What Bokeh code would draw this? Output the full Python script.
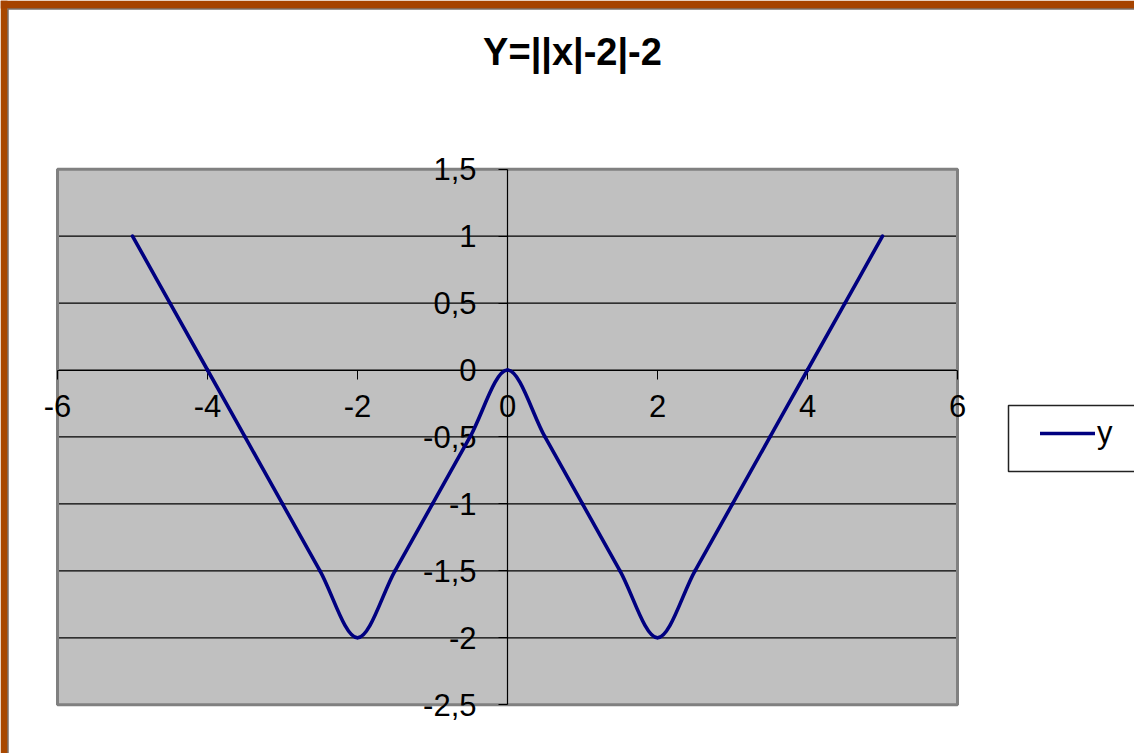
import numpy as np
from bokeh.plotting import figure
from bokeh.models import (FixedTicker, CustomJSTickFormatter, Range1d, Label, Legend,
                          LegendItem, BoxAnnotation, ColumnDataSource)
from bokeh.embed import file_html
from bokeh.resources import INLINE

# ---- data ----
title_text = "Y=||x|-2|-2"
series_name = "y"
x_vals = [-5, -4.5, -4, -3.5, -3, -2.5, -2, -1.5, -1, -0.5, 0,
          0.5, 1, 1.5, 2, 2.5, 3, 3.5, 4, 4.5, 5]
y_vals = [1, 0.5, 0, -0.5, -1, -1.5, -2, -1.5, -1, -0.5, 0,
          -0.5, -1, -1.5, -2, -1.5, -1, -0.5, 0, 0.5, 1]
x_ticks = [-6, -4, -2, 0, 2, 4, 6]
y_ticks = [-2.5, -2, -1.5, -1, -0.5, 0, 0.5, 1, 1.5]

# ---- Excel-style smoothed line: Catmull-Rom tangents -> cubic Bezier segments ----
px = np.array(x_vals, dtype=float)
py = np.array(y_vals, dtype=float)
n = len(px)
i = np.arange(n - 1)
i0 = np.maximum(i - 1, 0)
i3 = np.minimum(i + 2, n - 1)
seg = ColumnDataSource(dict(
    x0=px[i], y0=py[i], x1=px[i + 1], y1=py[i + 1],
    cx0=px[i] + (px[i + 1] - px[i0]) / 6.0, cy0=py[i] + (py[i + 1] - py[i0]) / 6.0,
    cx1=px[i + 1] - (px[i3] - px[i]) / 6.0, cy1=py[i + 1] - (py[i3] - py[i]) / 6.0,
))

FONT = "Liberation Sans"
W, H = 1134, 753

# the frame covers the whole canvas; the grey plot area is drawn inside it
p = figure(width=W, height=H,
           x_range=Range1d(-6.76, 8.36), y_range=Range1d(-2.864, 2.7595),
           toolbar_location=None, output_backend="svg", min_border=0)
p.background_fill_color = "white"
p.border_fill_color = "white"
p.outline_line_color = None
p.xgrid.visible = False
p.ygrid.visible = False

# grey plot area
p.quad(left=[x_ticks[0]], right=[x_ticks[-1]], bottom=[y_ticks[0]], top=[y_ticks[-1]],
       fill_color="#C0C0C0", line_color=None, level="image")

# horizontal gridlines at the inner y ticks, limited to the plot area
inner = y_ticks[1:-1]
p.segment(x0=[x_ticks[0]] * len(inner), x1=[x_ticks[-1]] * len(inner), y0=inner, y1=inner,
          line_color="black", line_width=1.2, level="underlay")

# grey border of the plot area
p.add_layout(BoxAnnotation(left=x_ticks[0], right=x_ticks[-1], bottom=y_ticks[0], top=y_ticks[-1],
                           fill_alpha=0, line_color="#808080", line_alpha=1.0, line_width=3,
                           level="underlay"))

# axes crossing at the origin
for ax, ticks in ((p.xaxis, x_ticks), (p.yaxis, y_ticks)):
    ax.fixed_location = 0
    ax.bounds = (ticks[0], ticks[-1])
    ax.ticker = FixedTicker(ticks=ticks)
    ax.formatter = CustomJSTickFormatter(code="return tick.toString().replace('.', ',')")
    ax.axis_line_color = "black"
    ax.axis_line_width = 1.2
    ax.major_tick_line_color = "black"
    ax.major_tick_out = 9
    ax.major_tick_in = 0
    ax.minor_tick_line_color = None
    ax.major_label_text_font = FONT
    ax.major_label_text_font_size = "31px"
    ax.major_label_text_color = "black"
p.xaxis.major_label_standoff = 16
p.yaxis.major_label_standoff = 22

r = p.bezier(x0="x0", y0="y0", x1="x1", y1="y1", cx0="cx0", cy0="cy0", cx1="cx1", cy1="cy1",
             source=seg, line_color="#000080", line_width=3.6, line_cap="round", level="overlay")

# title
p.add_layout(Label(x=572, y=H - 51, x_units="screen", y_units="screen", text=title_text,
                   text_align="center", text_baseline="alphabetic", text_font=FONT,
                   text_font_style="bold", text_font_size="38px", text_color="black"))

# legend box + legend
p.add_layout(BoxAnnotation(left=1008, right=1300, bottom=H - 471, top=H - 405,
                           left_units="screen", right_units="screen",
                           bottom_units="screen", top_units="screen",
                           fill_color="white", fill_alpha=1.0,
                           line_color="#222222", line_alpha=1.0, line_width=1.5))
legend = Legend(items=[LegendItem(label=series_name, renderers=[r])],
                location=(1040, H - 451), padding=0, margin=0, spacing=0,
                glyph_width=55, glyph_height=20, label_standoff=2,
                label_text_font=FONT, label_text_font_size="31px", label_text_color="black",
                border_line_alpha=0, background_fill_alpha=0)
p.add_layout(legend)

# slide frame (orange edges)
for l, rr, b, t, c in ((0, 7, 0, H, "#A84800"), (7, 8, 0, H - 9, "#3a2a20"),
                       (0, W, H - 8, H, "#A64300"), (7, W, H - 9, H - 8, "#3a2a20")):
    p.add_layout(BoxAnnotation(left=l, right=rr, bottom=b, top=t,
                               left_units="screen", right_units="screen",
                               bottom_units="screen", top_units="screen",
                               fill_color=c, fill_alpha=1.0, line_color=None, level="overlay"))

open("out.html", "w").write(file_html(p, INLINE))
